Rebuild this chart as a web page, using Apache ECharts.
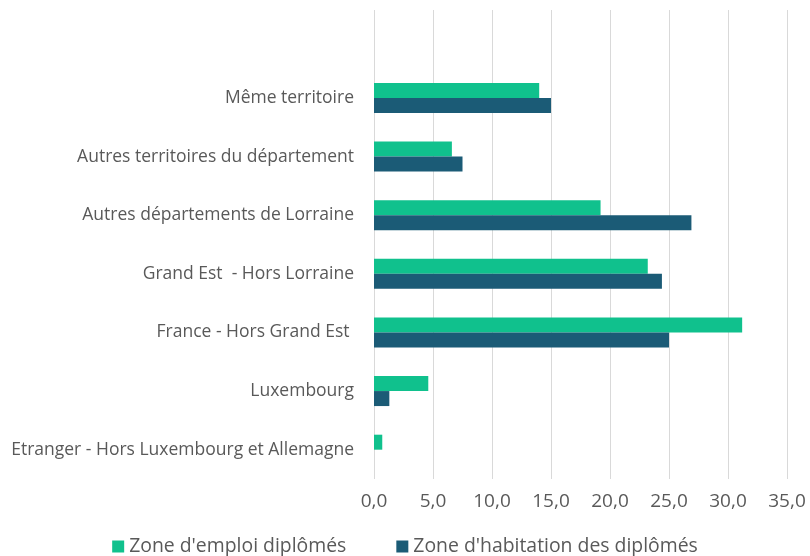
<!DOCTYPE html>
<html>
<head>
<meta charset="utf-8">
<script src="https://cdn.jsdelivr.net/npm/echarts@6/dist/echarts.min.js"></script>
<style>
  html, body { margin: 0; padding: 0; background: #fff; }
  #chart { width: 810px; height: 556px; }
</style>
</head>
<body>
<div id="chart"></div>
<script>
// categories, top to bottom (first one is an empty slot in the original)
const categories = [
    '',
    'Même territoire',
    'Autres territoires du département',
    'Autres départements de Lorraine',
    'Grand Est  - Hors Lorraine',
    'France - Hors Grand Est ',
    'Luxembourg',
    'Etranger - Hors Luxembourg et Allemagne'
]
const emploiData = [null, 14.0, 6.6, 19.2, 23.2, 31.2, 4.6, 0.7]
const habitationData = [null, 15.0, 7.5, 26.9, 24.4, 25.0, 1.3, 0]
const seriesNames = ["Zone d'emploi diplômés", "Zone d'habitation des diplômés"]

const fontFamily = '"Open Sans", sans-serif'
const chart = echarts.init(document.getElementById('chart'))
chart.setOption({
    backgroundColor: '#fff',
    animation: false,
    grid: {
        left: 374,
        right: 23,
        top: 10,
        bottom: 77,
    },
    legend: {
        top: 532,
        left: 'center',
        itemGap: 50,
        itemWidth: 12,
        itemHeight: 12,
        icon: 'rect',
        textStyle: {
            color: '#595959',
            fontSize: 19.4,
            fontFamily: fontFamily,
        },
        data: seriesNames,
    },
    xAxis: {
        type: 'value',
        min: 0,
        max: 35,
        interval: 5,
        axisLine: { show: false },
        axisTick: { show: false },
        splitLine: {
            lineStyle: { color: '#d9d9d9' },
        },
        axisLabel: {
            color: '#595959',
            fontSize: 19,
            fontFamily: fontFamily,
            margin: 13,
            formatter: function (value) {
                return value.toFixed(1).replace('.', ',')
            },
        },
    },
    yAxis: {
        type: 'category',
        inverse: true,
        data: categories,
        axisLine: { show: false },
        axisTick: { show: false },
        axisLabel: {
            color: '#595959',
            fontSize: 17.5,
            fontFamily: fontFamily,
            margin: 20,
        },
    },
    series: [
        {
            name: seriesNames[0],
            type: 'bar',
            barWidth: 15,
            barGap: '0%',
            itemStyle: { color: '#10c18d' },
            data: emploiData,
        },
        {
            name: seriesNames[1],
            type: 'bar',
            barWidth: 15,
            barGap: '0%',
            itemStyle: { color: '#1b5b76' },
            data: habitationData,
        },
    ],
})
</script>
</body>
</html>
